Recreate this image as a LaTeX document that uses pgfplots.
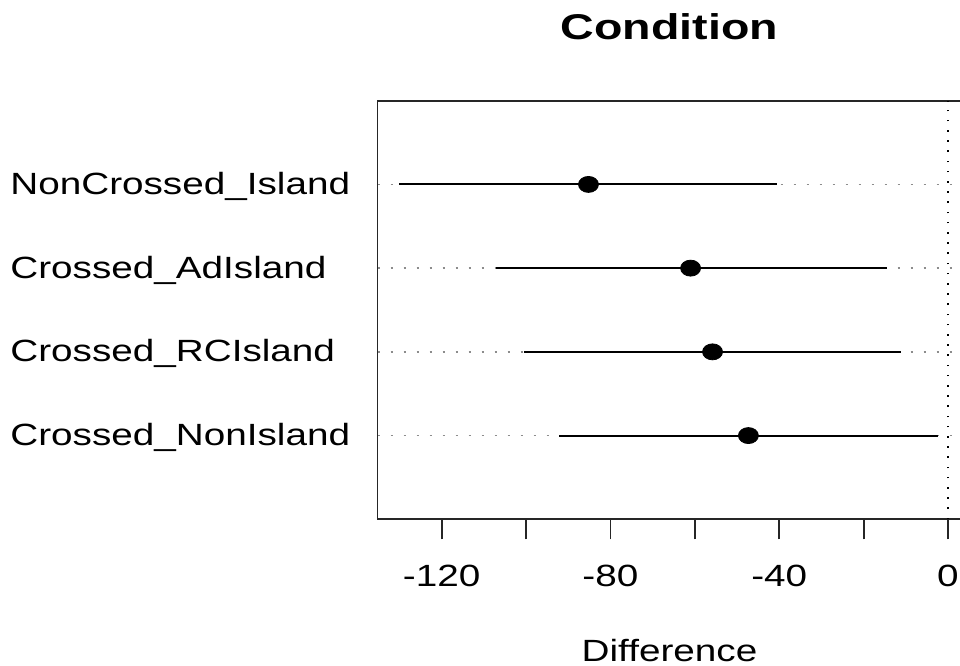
\documentclass[border=0pt]{standalone}
\usepackage{fontspec}
\setmainfont[FakeStretch=1.26]{Liberation Sans}
\newfontfamily\titlefont[FakeStretch=1.3]{Liberation Sans}
\usepackage{pgfplots}
\usepackage{pgfplotstable}
\pgfplotsset{compat=1.18}

\newcommand{\labelfont}{\fontsize{15.35bp}{18bp}\selectfont}

% estimate with lower and upper limit, one row per condition
\pgfplotstableread{
y est lo hi
4 -85.2 -130.0 -40.6
3 -61.0 -107.1 -14.5
2 -55.8 -100.6 -11.2
1 -47.3 -92.1 -2.3
}\intervals

\begin{document}
\begin{tikzpicture}
\path[use as bounding box, clip] (0,0) rectangle (480bp,333bp);
\begin{axis}[
    at={(188.75bp,73.35bp)}, anchor=south west,
    scale only axis, width=292bp, height=209.3bp,
    xmin=-135.2, xmax=3.2, ymin=0, ymax=5,
    axis line style={line width=0.9bp, black!85},
    xtick={-120,-100,-80,-60,-40,-20,0},
    xticklabels={-120,,-80,,-40,,0},
    xtick pos=bottom, tick align=outside, major tick length=10bp,
    xtick style={line width=0.9bp, black!85},
    ytick={1,2,3,4},
    yticklabels={Crossed\_NonIsland, Crossed\_RCIsland, Crossed\_AdIsland, NonCrossed\_Island},
    ytick style={draw=none},
    ymajorgrids,
    grid style={black!45, line width=0.75bp, dash pattern=on 1bp off 5.5bp},
    ticklabel style={font=\labelfont, inner sep=0pt},
    yticklabel style={anchor=base west, xshift=-173.75bp, yshift=-5bp},
    xticklabel style={anchor=base, yshift=-23.7bp},
    title={Condition},
    title style={at={(axis description cs:0.5,1)}, anchor=base, yshift=24.6bp,
        inner sep=0pt, font=\titlefont\bfseries\fontsize{17.9bp}{21bp}\selectfont},
    xlabel={Difference},
    xlabel style={at={(axis description cs:0.5,0)}, anchor=base, yshift=-70.9bp,
        inner sep=0pt, font=\labelfont},
]
% reference line at zero
\addplot[black, line width=0.8bp, dash pattern=on 0.8bp off 4.3bp] coordinates {(0,0) (0,5)};

\addplot[only marks, mark=*, mark size=4bp, mark options={xscale=1.25, fill=black},
    error bars/.cd, x dir=both, x explicit, error mark=none,
    error bar style={line width=1bp, black}]
    table[x=est, y=y,
        x error plus expr={\thisrow{hi}-\thisrow{est}},
        x error minus expr={\thisrow{est}-\thisrow{lo}}] {\intervals};
\end{axis}
\end{tikzpicture}
\end{document}
